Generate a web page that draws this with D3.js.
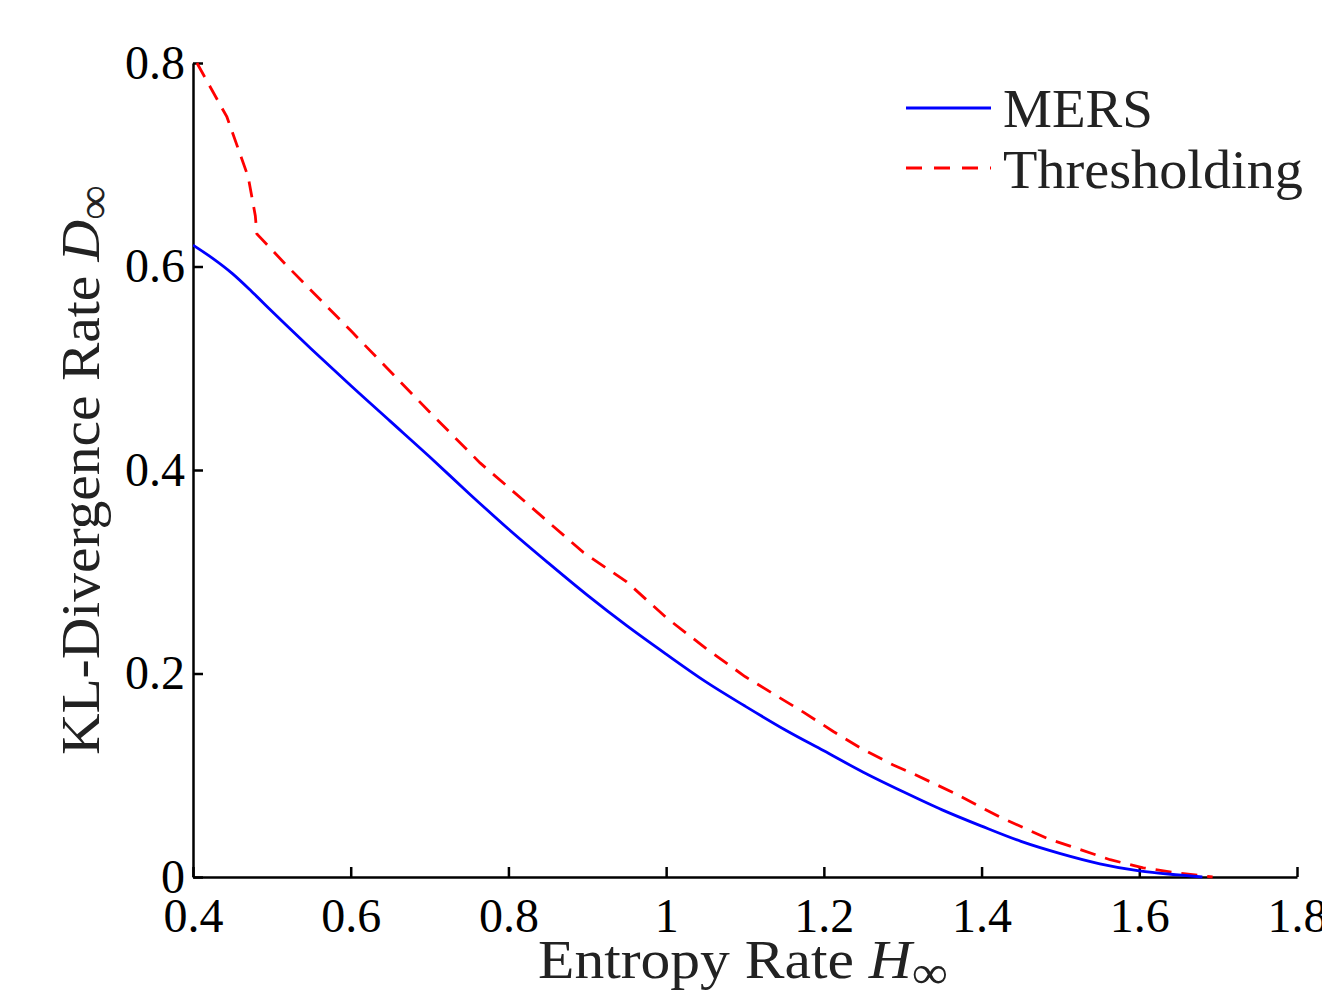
<!DOCTYPE html>
<html>
<head>
<meta charset="utf-8">
<script src="https://cdn.jsdelivr.net/npm/d3@7"></script>
<style>
  body { margin: 0; background: #fff; }
  svg text { font-family: "Liberation Serif", "Times New Roman", serif; }
</style>
</head>
<body>
<svg id="chart" width="1322" height="990"></svg>
<script>
// values
var xTicks = [0.4, 0.6, 0.8, 1, 1.2, 1.4, 1.6, 1.8];
var yTicks = [0, 0.2, 0.4, 0.6, 0.8];

var mersX = [0.4, 0.425, 0.45, 0.475, 0.5, 0.55, 0.6, 0.65, 0.7, 0.75, 0.8, 0.85, 0.9, 0.95, 1.0, 1.05, 1.1, 1.15, 1.2, 1.25, 1.3, 1.35, 1.4, 1.45, 1.5, 1.55, 1.6, 1.65, 1.68];
var mersY = [0.621, 0.608, 0.593, 0.575, 0.556, 0.519, 0.483, 0.448, 0.413, 0.377, 0.342, 0.309, 0.277, 0.247, 0.219, 0.192, 0.168, 0.145, 0.124, 0.103, 0.084, 0.066, 0.050, 0.035, 0.023, 0.013, 0.006, 0.002, 0.0];

var threshX = [0.405, 0.443, 0.470, 0.479, 0.481, 0.52, 0.6, 0.7, 0.764, 0.8, 0.895, 0.95, 1.0, 1.05, 1.1, 1.174, 1.212, 1.246, 1.288, 1.309, 1.364, 1.423, 1.483, 1.563, 1.605, 1.648, 1.693];
var threshY = [0.800, 0.747, 0.688, 0.650, 0.632, 0.600, 0.537, 0.457, 0.407, 0.383, 0.319, 0.290, 0.255, 0.225, 0.197, 0.162, 0.143, 0.127, 0.110, 0.103, 0.083, 0.059, 0.038, 0.017, 0.009, 0.004, 0.0];

var svg = d3.select("#chart");
var pLeft = 193, pRight = 1297, pTop = 63, pBottom = 877;

var x = d3.scaleLinear().domain([0.4, 1.8]).range([pLeft, pRight]);
var y = d3.scaleLinear().domain([0, 0.8]).range([pBottom, pTop]);

svg.append("defs").append("clipPath").attr("id", "plotclip")
  .append("rect").attr("x", pLeft).attr("y", pTop - 2)
  .attr("width", pRight - pLeft).attr("height", pBottom - pTop + 4);

// x axis, ticks pointing in
var xa = svg.append("g").attr("transform", "translate(0," + pBottom + ")")
  .call(d3.axisBottom(x).tickValues(xTicks).tickSizeInner(-10).tickSizeOuter(0)
    .tickPadding(21).tickFormat(d3.format("")));
// y axis
var ya = svg.append("g").attr("transform", "translate(" + pLeft + ",0)")
  .call(d3.axisLeft(y).tickValues(yTicks).tickSizeInner(-10).tickSizeOuter(0)
    .tickPadding(8).tickFormat(d3.format("")));

[xa, ya].forEach(function(a) {
  a.select(".domain").attr("stroke", "#000").attr("stroke-width", 2.5);
  a.selectAll(".tick line").attr("stroke", "#000").attr("stroke-width", 2.5);
  a.selectAll(".tick text").attr("fill", "#000").style("font-size", "48px")
    .style("font-family", "'Liberation Serif', serif");
});

var line = d3.line().x(function(d) { return x(d[0]); }).y(function(d) { return y(d[1]); });
var smooth = d3.line().curve(d3.curveMonotoneX)
  .x(function(d) { return x(d[0]); }).y(function(d) { return y(d[1]); });

var mers = d3.zip(mersX, mersY);
var thresh = d3.zip(threshX, threshY);

var plot = svg.append("g").attr("clip-path", "url(#plotclip)");
plot.append("path").datum(thresh).attr("d", line)
  .attr("fill", "none").attr("stroke", "#ff0000").attr("stroke-width", 2.8)
  .attr("stroke-dasharray", "16,10");
plot.append("path").datum(mers).attr("d", smooth)
  .attr("fill", "none").attr("stroke", "#0000ff").attr("stroke-width", 2.8);

// legend
var leg = svg.append("g");
leg.append("line").attr("x1", 906).attr("x2", 991).attr("y1", 108).attr("y2", 108)
  .attr("stroke", "#0000ff").attr("stroke-width", 2.8);
leg.append("line").attr("x1", 906).attr("x2", 991).attr("y1", 168).attr("y2", 168)
  .attr("stroke", "#ff0000").attr("stroke-width", 2.8).attr("stroke-dasharray", "16,12");
leg.append("text").attr("x", 1003).attr("y", 127).attr("fill", "#222")
  .style("font-size", "54px").attr("textLength", 150).attr("lengthAdjust", "spacingAndGlyphs")
  .text("MERS");
leg.append("text").attr("x", 1003).attr("y", 188).attr("fill", "#222")
  .style("font-size", "54px").attr("textLength", 300).attr("lengthAdjust", "spacingAndGlyphs")
  .text("Thresholding");

// axis labels
var xl = svg.append("text").attr("x", 538).attr("y", 978).attr("fill", "#222")
  .style("font-size", "54px").attr("textLength", 410).attr("lengthAdjust", "spacingAndGlyphs");
xl.append("tspan").text("Entropy Rate ");
xl.append("tspan").style("font-style", "italic").text("H");
xl.append("tspan").attr("dy", 10).style("font-size", "46px").text("∞");

var yl = svg.append("text").attr("transform", "translate(99,755) rotate(-90)")
  .attr("fill", "#222").style("font-size", "54px")
  .attr("textLength", 570).attr("lengthAdjust", "spacingAndGlyphs");
yl.append("tspan").text("KL-Divergence Rate ");
yl.append("tspan").style("font-style", "italic").text("D");
yl.append("tspan").attr("dy", 10).style("font-size", "46px").text("∞");
</script>
</body>
</html>
